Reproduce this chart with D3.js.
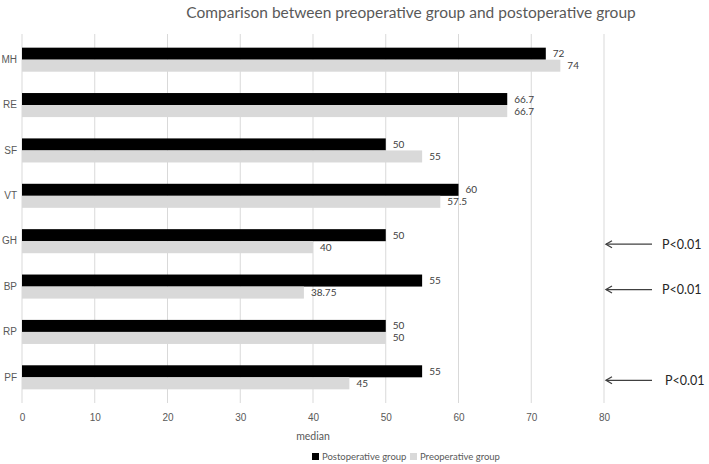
<!DOCTYPE html>
<html lang="en">
<head>
    <meta charset="UTF-8">
    <title>Comparison between preoperative group and postoperative group</title>
    <script src="https://d3js.org/d3.v7.min.js"></script>
    <style>
        body {
            margin: 0;
            padding: 0;
            background-color: #fff;
            font-family: Lato, "Open Sans", sans-serif;
        }

        .tick text {
            fill: #595959;
            font-size: 10px;
        }

        .val-label {
            fill: #404040;
            font-size: 10px;
        }
    </style>
</head>
<body>
    <svg id="chart" width="709" height="464"></svg>
    <script>
        // categories, top to bottom
        const categories = ["MH", "RE", "SF", "VT", "GH", "BP", "RP", "PF"];
        const postValues = [72, 66.7, 50, 60, 50, 55, 50, 55];
        const preValues = [74, 66.7, 55, 57.5, 40, 38.75, 50, 45];
        const valueLabelsPost = ["72", "66.7", "50", "60", "50", "55", "50", "55"];
        const valueLabelsPre = ["74", "66.7", "55", "57.5", "40", "38.75", "50", "45"];
        const xTicks = [0, 10, 20, 30, 40, 50, 60, 70, 80];
        const series = ["Postoperative group", "Preoperative group"];
        const seriesColors = ["#000000", "#d9d9d9"];
        // categories flagged with a P-value note
        const pNotes = [
            { cat: "GH", text: "P<0.01" },
            { cat: "BP", text: "P<0.01" },
            { cat: "PF", text: "P<0.01" }
        ];

        const svg = d3.select("#chart");
        const margin = { left: 22, right: 105, top: 37, bottom: 64 };
        const width = 709, height = 464;

        const x = d3.scaleLinear()
            .domain([0, 80])
            .range([margin.left, width - margin.right]);

        const y = d3.scaleBand()
            .domain(categories)
            .range([margin.top, height - margin.bottom])
            .paddingInner(0.47)
            .paddingOuter(0.235);

        const sub = d3.scaleBand()
            .domain(series)
            .range([0, y.bandwidth()]);

        // vertical gridlines
        svg.append("g")
            .selectAll("line")
            .data(xTicks)
            .join("line")
            .attr("x1", d => x(d))
            .attr("x2", d => x(d))
            .attr("y1", margin.top - 3)
            .attr("y2", height - margin.bottom + 3)
            .attr("stroke", "#d9d9d9")
            .attr("stroke-width", 1);

        // bottom axis labels
        const xAxis = svg.append("g")
            .attr("transform", `translate(0, ${height - margin.bottom + 3})`)
            .call(d3.axisBottom(x).tickValues(xTicks).tickSize(0).tickPadding(11));
        xAxis.select(".domain").remove();

        // left category labels
        const yAxis = svg.append("g")
            .attr("transform", `translate(${margin.left - 5}, 0)`)
            .call(d3.axisLeft(y).tickSize(0).tickPadding(0));
        yAxis.select(".domain").remove();

        // bars
        const rows = svg.append("g")
            .selectAll("g")
            .data(categories.map((c, i) => ({
                cat: c,
                vals: [
                    { s: series[0], v: postValues[i], label: valueLabelsPost[i] },
                    { s: series[1], v: preValues[i], label: valueLabelsPre[i] }
                ]
            })))
            .join("g")
            .attr("transform", d => `translate(0, ${y(d.cat)})`);

        rows.selectAll("rect")
            .data(d => d.vals)
            .join("rect")
            .attr("x", x(0))
            .attr("y", d => sub(d.s))
            .attr("width", d => x(d.v) - x(0))
            .attr("height", sub.bandwidth())
            .attr("fill", (d, i) => seriesColors[i]);

        rows.selectAll("text")
            .data(d => d.vals)
            .join("text")
            .attr("class", "val-label")
            .attr("x", d => x(d.v) + 7)
            .attr("y", d => sub(d.s) + sub.bandwidth() / 2)
            .attr("dy", "0.35em")
            .text(d => d.label);

        // arrows and P-value notes
        const notes = svg.append("g")
            .selectAll("g")
            .data(pNotes)
            .join("g")
            .attr("transform", d => `translate(0, ${y(d.cat) + y.bandwidth() / 2 + 3})`);

        const tipX = x(80) + 2;
        notes.append("line")
            .attr("x1", tipX)
            .attr("x2", tipX + 46)
            .attr("y1", 0)
            .attr("y2", 0)
            .attr("stroke", "#404040")
            .attr("stroke-width", 1.3);

        notes.append("path")
            .attr("d", `M${tipX + 6},-3.5 L${tipX},0 L${tipX + 6},3.5`)
            .attr("fill", "none")
            .attr("stroke", "#404040")
            .attr("stroke-width", 1.3);

        notes.append("text")
            .attr("x", (d, i) => x(80) + 58 + (i === 2 ? 3 : 0))
            .attr("y", 0)
            .attr("dy", "0.35em")
            .attr("fill", "#262626")
            .attr("font-size", "12.5px")
            .text(d => d.text);

        // title
        svg.append("text")
            .attr("x", 411)
            .attr("y", 18)
            .attr("text-anchor", "middle")
            .attr("fill", "#595959")
            .attr("font-size", "15.5px")
            .text("Comparison between preoperative group and postoperative group");

        // x axis title
        svg.append("text")
            .attr("x", x(40))
            .attr("y", 440)
            .attr("text-anchor", "middle")
            .attr("fill", "#595959")
            .attr("font-size", "10.5px")
            .text("median");

        // legend
        const legend = svg.append("g")
            .attr("transform", "translate(312, 457)");
        const legendX = [0, 98];
        series.forEach((s, i) => {
            legend.append("rect")
                .attr("x", legendX[i])
                .attr("y", -4)
                .attr("width", 7)
                .attr("height", 7)
                .attr("fill", seriesColors[i]);
            legend.append("text")
                .attr("x", legendX[i] + 10)
                .attr("y", 0)
                .attr("dy", "0.33em")
                .attr("fill", "#595959")
                .attr("font-size", "9.5px")
                .text(s);
        });
    </script>
</body>
</html>
